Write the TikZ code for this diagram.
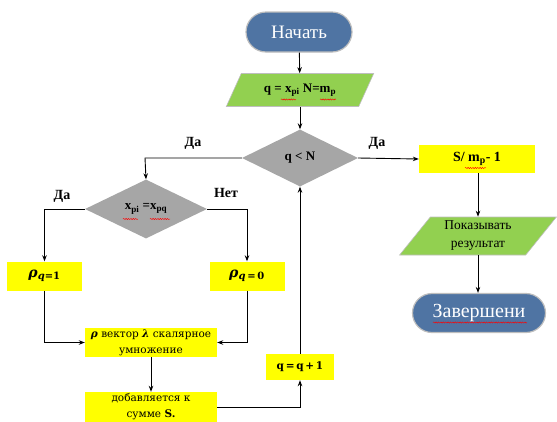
\documentclass[tikz,border=0pt]{standalone}
\usepackage{fontspec}
\setmainfont{Liberation Serif}
\newfontfamily\cambr{DejaVu Serif}
\usetikzlibrary{shapes.geometric,shapes.misc,arrows.meta,decorations.pathmorphing}
\definecolor{termblue}{RGB}{79,116,163}
\definecolor{termedge}{RGB}{190,190,190}
\definecolor{iogreen}{RGB}{146,208,80}
\definecolor{procyellow}{RGB}{255,255,0}
\definecolor{decgray}{RGB}{166,166,166}
\tikzset{
  term/.style={rounded rectangle, fill=termblue, draw=termedge, line width=1.2pt, text=white, inner sep=0pt},
  iobox/.style={trapezium, trapezium stretches=true, trapezium left angle=54, trapezium right angle=126, fill=iogreen, draw=termedge, line width=0.6pt, inner sep=0pt, align=center},
  proc/.style={rectangle, fill=procyellow, inner sep=0pt, align=center},
  dec/.style={diamond, fill=decgray, inner sep=0pt},
  conn/.style={line width=0.9pt, -{Stealth[length=6pt,width=4.5pt]}},
  lab/.style={font=\fontsize{14}{16}\selectfont\bfseries},
  squig/.style={red, line width=0.45pt, decorate, decoration={snake, segment length=2.4pt, amplitude=0.6pt}}
}
\begin{document}
\begin{tikzpicture}[x=1pt,y=-1pt]
\useasboundingbox (0,0) rectangle (557,421);
% nodes
\node[term, minimum width=106pt, minimum height=40pt, font=\fontsize{19}{21}\selectfont] (start) at (299,32) {Начать};
\node[iobox, minimum width=148pt, minimum height=33pt, font=\fontsize{13}{15}\selectfont\bfseries] (inp) at (300,90) {q = x\textsubscript{pi} N=m\textsubscript{p}};
\node[dec, minimum width=116pt, minimum height=57pt, font=\fontsize{13}{15}\selectfont\bfseries] (d1) at (300,158) {q \textless{} N};
\node[proc, minimum width=116pt, minimum height=28pt, font=\fontsize{14}{16}\selectfont\bfseries] (S) at (477,159) {S/ m\textsubscript{p}- 1};
\node[iobox, minimum width=157pt, minimum height=38pt, font=\fontsize{13.5}{18}\selectfont] (out) at (478,236) {Показывать\\результат};
\node[term, minimum width=133pt, minimum height=39pt, font=\fontsize{20}{22}\selectfont] (end) at (479,313) {Завершени};
\node[dec, minimum width=122pt, minimum height=59pt, font=\fontsize{13}{15}\selectfont\bfseries] (d2) at (146,209) {x\textsubscript{pi} =x\textsubscript{pq}};
\node[proc, minimum width=75pt, minimum height=29pt, font=\cambr\fontsize{14}{16}\selectfont\bfseries] (r1) at (44.5,276) {\textit{ρ}\textsubscript{\fontsize{10}{12}\selectfont\textit{q}=1}};
\node[proc, minimum width=75pt, minimum height=29pt, font=\cambr\fontsize{14}{16}\selectfont\bfseries] (r0) at (247,276) {\textit{ρ}\textsubscript{\fontsize{10}{12}\selectfont\textit{q}\,=\,0}};
\node[proc, minimum width=132pt, minimum height=29pt, font=\cambr\fontsize{10.5}{16}\selectfont] (mul) at (151,342.5) {\textbf{\textit{ρ}} вектор \textbf{\textit{λ}} скалярное\\умножение};
\node[proc, minimum width=132pt, minimum height=30pt, font=\cambr\fontsize{10.5}{16}\selectfont] (add) at (151,407) {добавляется к\\сумме \textbf{S.}};
\node[proc, minimum width=68pt, minimum height=26pt, font=\cambr\fontsize{10.5}{12}\selectfont\bfseries] (inc) at (300,367) {q\,=\,q\,+\,1};
% connectors
\draw[conn] (start) -- (inp);
\draw[conn] (inp.south -| d1.north) -- (d1);
\coordinate (c1) at (145,158);
\draw[conn] (d1.west) -- (c1) -- (d2.north);
\draw[conn] (d1.east) -- (S.west);
\coordinate (c2) at (44.5,209);
\coordinate (c3) at (247,209);
\draw[conn] (d2.west) -- (c2) -- (r1.north);
\draw[conn] (d2.east) -- (c3) -- (r0.north);
\draw[conn] (r1.south) |- (mul.west);
\draw[conn] (r0.south) |- (mul.east);
\draw[conn] (mul) -- (add);
\draw[conn] (add.east) -| (inc.south);
\draw[conn] (inc.north) -- (d1.south);
\draw[conn] (S.south -| out.north) -- (out.north);
\draw[conn] (out.south) -- (end.north -| out.south);
% labels
\node[lab] (l1) at (193,143) {Да};
\node[lab] (l2) at (377,143) {Да};
\node[lab] (l3) at (62,196) {Да};
\node[lab] (l4) at (226,193) {Нет};
% spell-check squiggles
\draw[squig] (281,99.5) -- (296,99.5);
\draw[squig] (320,99.5) -- (336,99.5);
\draw[squig] (123,219) -- (138,219);
\draw[squig] (150,219) -- (170,219);
\draw[squig] (465,168) -- (486,168);
\draw[squig] (433,322.5) -- (527,322.5);
\end{tikzpicture}
\end{document}
